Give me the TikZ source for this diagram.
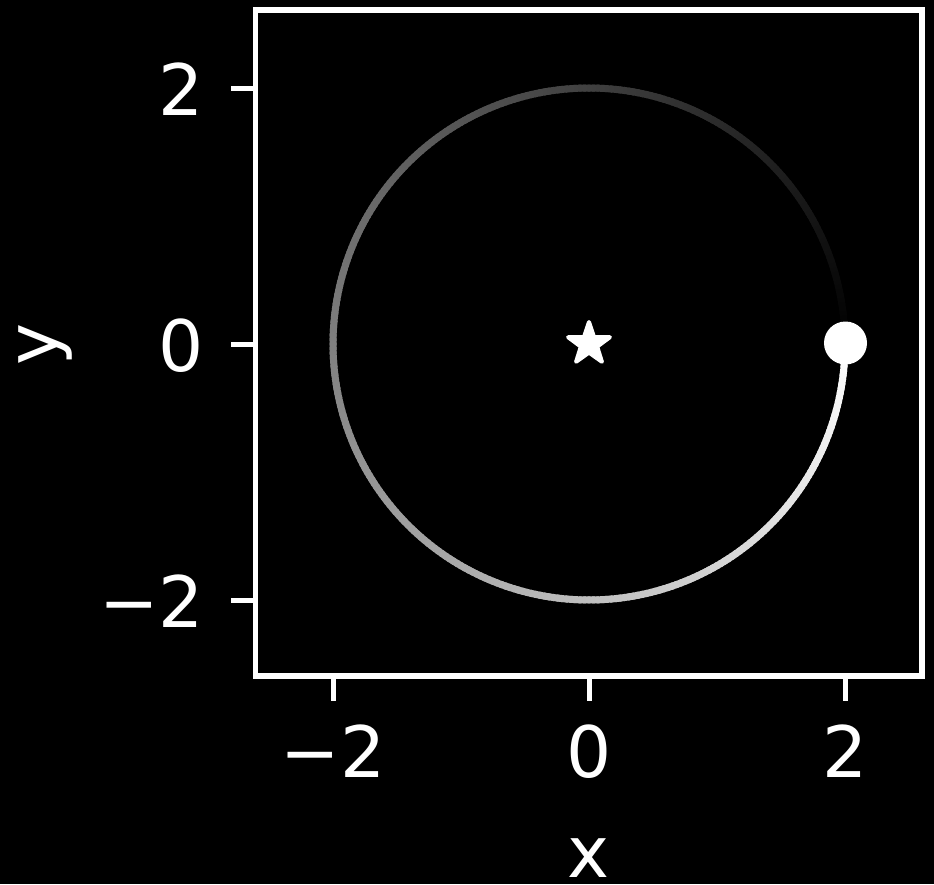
\documentclass[tikz,border=0pt]{standalone}
\usepackage{fontspec}
\setmainfont{DejaVu Sans}
\usetikzlibrary{calc}
\begin{document}
\begin{tikzpicture}[x=1pt,y=-1pt,
  axisline/.style={draw=white,line width=5.5pt},
  ticklab/.style={text=white,inner sep=0pt,font=\fontsize{71}{71}\selectfont},
  axlab/.style={text=white,inner sep=0pt,font=\fontsize{71}{71}\selectfont}]
\fill[black] (0,0) rectangle (934,884);
\useasboundingbox (0,0) rectangle (934,884);
\coordinate (sun) at (589,344);
% trail
\foreach \i in {0,...,359}{
  \pgfmathsetmacro{\g}{100*(1-\i/360)}
  \draw[white!\g!black,line width=7pt,line cap=butt]
    ($(sun)+({256*cos(-\i+0.3)},{-256*sin(-\i+0.3)})$)
    arc[start angle=\i-0.3,end angle=\i+1.3,radius=256];
}
% frame
\draw[axisline,line join=miter] (255.5,10) rectangle (922,676);
% y ticks
\foreach \yy in {88,344,600}{
  \draw[white,line width=5pt] (255.5,\yy) -- (231,\yy);
}
\node[ticklab,anchor=base east] (ly2) at (204,115) {2};
\node[ticklab,anchor=base east] (ly0) at (204,371) {0};
\node[ticklab,anchor=base east] (lym2) at (204,627) {−2};
% x ticks
\foreach \xx in {333,589,845}{
  \draw[white,line width=5pt] (\xx,676) -- (\xx,701);
}
\node[ticklab,anchor=base] (lxm2) at (333,777) {−2};
\node[ticklab,anchor=base] (lx0) at (589,777) {0};
\node[ticklab,anchor=base] (lx2) at (845,777) {2};
% axis labels
\node[axlab,anchor=base] (xl) at (589,877) {x};
\node[axlab,rotate=90,anchor=base] (yl) at (57,344) {y};
% star
\fill[white,draw=white,line width=4pt,line join=round]
  ($(sun)+(0,-22)$)
  \foreach \k in {1,...,9}{ -- ($(sun)+({(mod(\k,2)==1 ? 8.6 : 22)*cos(90+36*\k)},{-(mod(\k,2)==1 ? 8.6 : 22)*sin(90+36*\k)})$) } -- cycle;
% planet
\node[circle,fill=white,minimum size=43pt,inner sep=0pt] (planet) at (845.5,343) {};
\end{tikzpicture}
\end{document}
